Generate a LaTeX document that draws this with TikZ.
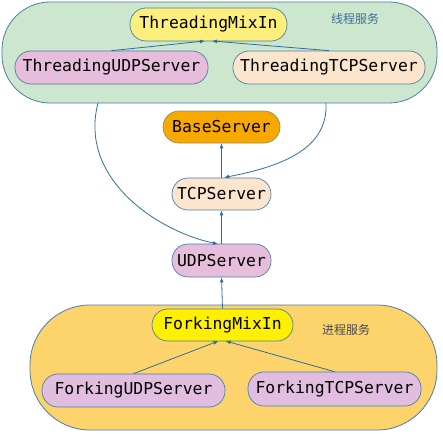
\documentclass[tikz,border=0pt]{standalone}
\usepackage{fontspec}
\setmonofont{DejaVu Sans Mono}
\newfontfamily\cjk{Noto Sans CJK SC}
\usetikzlibrary{arrows.meta}
\definecolor{edgec}{HTML}{2E6E9E}
\definecolor{bordc}{HTML}{4A7EA8}
\definecolor{greenbg}{HTML}{CCE7CD}
\definecolor{orangebg}{HTML}{FDD36B}
\definecolor{softyel}{HTML}{FCEF7C}
\definecolor{brightyel}{HTML}{FFF000}
\definecolor{pinkc}{HTML}{E6BEDB}
\definecolor{peachc}{HTML}{FCE5CD}
\definecolor{basec}{HTML}{F8A900}
\definecolor{lavc}{HTML}{E1BEE0}
\definecolor{lblblue}{HTML}{3E6E99}
\definecolor{lblgray}{HTML}{4A4A55}
\begin{document}
\begin{tikzpicture}[x=1pt,y=-1pt,
  cls/.style={draw=bordc,line width=0.7pt,rounded corners=16pt,minimum height=33pt,inner sep=0pt,
    font=\ttfamily\fontsize{16.4}{18}\selectfont,text=black},
  grp/.style={draw=bordc,line width=0.8pt,inner sep=0pt},
  arr/.style={draw=edgec,line width=0.8pt,-{Latex[length=5pt,width=4pt]}},
  lbl/.style={font=\cjk\fontsize{12}{14}\selectfont,inner sep=0pt}]
\useasboundingbox (0,0) rectangle (443,433);
% containers
\node[grp,fill=greenbg,rounded corners=48pt,minimum width=435pt,minimum height=101pt] (tg) at (219.5,52.5) {};
\node[grp,fill=orangebg,rounded corners=60pt,minimum width=407pt,minimum height=125pt] (fg) at (233.5,367.5) {};
% threading
\node[cls,fill=softyel,minimum width=157pt] (tmix) at (208.5,24.5) {ThreadingMixIn};
\node[cls,fill=pinkc,minimum width=193pt] (tudp) at (111.5,67.5) {ThreadingUDPServer};
\node[cls,fill=peachc,minimum width=192pt] (ttcp) at (329,67.5) {ThreadingTCPServer};
\node[lbl,text=lblblue] (tl) at (355,19) {线程服务};
% core
\node[cls,fill=basec,draw=gray!70!olive,minimum width=117pt,minimum height=32pt] (base) at (221.5,127) {BaseServer};
\node[cls,fill=peachc,minimum width=99pt,minimum height=32pt] (tcp) at (221.5,194) {TCPServer};
\node[cls,fill=pinkc,minimum width=99pt] (udp) at (221.5,260.5) {UDPServer};
% forking
\node[cls,fill=brightyel,minimum width=141pt,minimum height=32pt] (fmix) at (222.5,325) {ForkingMixIn};
\node[cls,fill=lavc,minimum width=183pt] (fudp) at (133.5,390.5) {ForkingUDPServer};
\node[cls,fill=lavc,minimum width=173pt,minimum height=34pt] (ftcp) at (334.5,389) {ForkingTCPServer};
\node[lbl,text=lblgray] (fl) at (346,330) {进程服务};
% connector ends
\coordinate (tudpbot) at (98,103);
\coordinate (ttcpbot) at (326,103);
\coordinate (tmixl) at (205,41);
\coordinate (tmixr) at (212,41);
\coordinate (fmixl) at (218.5,341);
\coordinate (fmixr) at (225.5,341);
% edges
\draw[arr] (tudp.north) -- (tmixl);
\draw[arr] (ttcp.north) -- (tmixr);
\draw[arr] (tcp.north) -- (base.south);
\draw[arr] (udp.north) -- (tcp.south);
\draw[arr] (fmix.north) -- (udp.south);
\draw[arr] (fudp.north) -- (fmixl);
\draw[arr] (ftcp.north) -- (fmixr);
\draw[arr] (tudpbot) .. controls (78,180) and (160,232) .. (218,244);
\draw[arr] (ttcpbot) .. controls (328,145) and (290,165) .. (224,177.5);
\end{tikzpicture}
\end{document}
